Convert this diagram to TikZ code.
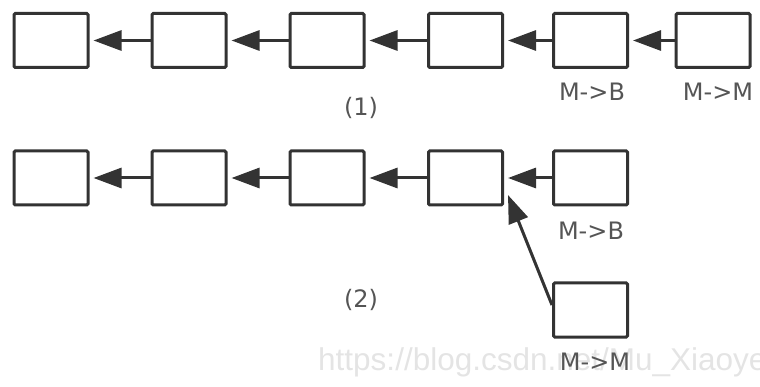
\documentclass[tikz,border=0pt]{standalone}
\usepackage{fontspec}
\setmainfont{DejaVu Sans}
\newfontfamily\markfont{Liberation Sans}
\usetikzlibrary{arrows.meta,positioning,calc}
\definecolor{ink}{HTML}{333333}
\definecolor{labelgray}{HTML}{555555}
\definecolor{markgray}{HTML}{E4E4E4}
\begin{document}
\begin{tikzpicture}[x=1pt,y=-1pt,
  box/.style={draw=ink,line width=3pt,rounded corners=1.2pt,fill=white,
    minimum width=74pt,minimum height=54pt,inner sep=0pt},
  arr/.style={draw=ink,line width=3pt,
    -{Triangle[length=28pt,width=20pt]},shorten >=4pt},
  lbl/.style={text=labelgray,font=\fontsize{24}{27}\selectfont,inner sep=0pt}]
\useasboundingbox (0,0) rectangle (760,387);
\begin{scope}
\clip (0,0) rectangle (760,387);
% faint host mark along the bottom
\node[anchor=west,text=markgray,inner sep=0pt,
  font=\markfont\fontsize{31.5}{34}\selectfont] (mark) at (318,362) {https://blog.csdn.net/Mu\_Xiaoye};
\end{scope}
% row (1)
\node[box] (a1) at (51,40.5) {};
\node[box] (a2) at (189,40.5) {};
\node[box] (a3) at (327,40.5) {};
\node[box] (a4) at (465.5,40.5) {};
\node[box] (a5) at (590.5,40.5) {};
\node[box] (a6) at (713,40.5) {};
\draw[arr] (a2.west) -- (a1.east);
\draw[arr] (a3.west) -- (a2.east);
\draw[arr] (a4.west) -- (a3.east);
\draw[arr] (a5.west) -- (a4.east);
\draw[arr] (a6.west) -- (a5.east);
\node[lbl] (la5) at (592,92) {M->B};
\node[lbl] (la6) at (718,92) {M->M};
\node[lbl] (t1) at (361,108) {(1)};
% row (2)
\node[box] (b1) at (51,178) {};
\node[box] (b2) at (189,178) {};
\node[box] (b3) at (327,178) {};
\node[box] (b4) at (465.5,178) {};
\node[box] (b5) at (590.5,178) {};
\node[box] (m2) at (590.5,310) {};
\draw[arr] (b2.west) -- (b1.east);
\draw[arr] (b3.west) -- (b2.east);
\draw[arr] (b4.west) -- (b3.east);
\draw[arr] (b5.west) -- (b4.east);
\draw[arr,shorten >=0pt] ([yshift=5pt]m2.west) -- ([xshift=4pt,yshift=-17pt]b4.east);
\node[lbl] (lb5) at (591,231) {M->B};
\node[lbl] (lm2) at (595,362) {M->M};
\node[lbl] (t2) at (361,300) {(2)};
\end{tikzpicture}
\end{document}
